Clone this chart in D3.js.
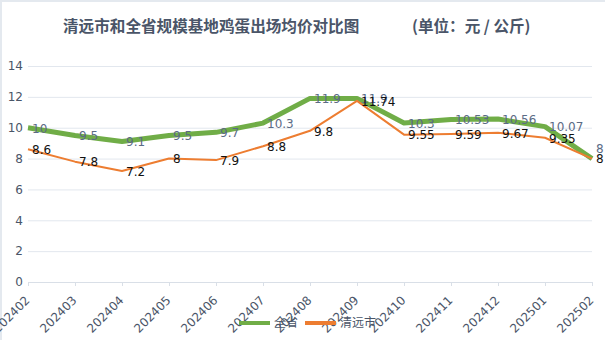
<!DOCTYPE html>
<html>
<head>
<meta charset="utf-8">
<script src="https://cdn.jsdelivr.net/npm/d3@7"></script>
<style>
  html, body { margin: 0; padding: 0; background: #fff; }
  svg { display: block; }
</style>
</head>
<body>
<svg id="chart" width="605" height="340"></svg>
<script>
// Monthly egg prices at large-scale farms (yuan / kg)
const months = ["202402","202403","202404","202405","202406","202407","202408","202409","202410","202411","202412","202501","202502"];
const provinceValues = [10, 9.5, 9.1, 9.5, 9.7, 10.3, 11.9, 11.9, 10.3, 10.53, 10.56, 10.07, 8];
const qingyuanValues = [8.6, 7.8, 7.2, 8, 7.9, 8.8, 9.8, 11.74, 9.55, 9.59, 9.67, 9.35, 8];
const seriesNames = ["全省", "清远市"];
const yTicks = [0, 2, 4, 6, 8, 10, 12, 14];

const titleText = "清远市和全省规模基地鸡蛋出场均价对比图";
const unitText = "(单位：元 / 公斤)";

const numFont = "'DejaVu Sans', Verdana, sans-serif";
const cjkFont = "'Noto Sans CJK SC', 'DejaVu Sans', sans-serif";
const axisColor = "#4a5568";

const svg = d3.select("#chart");
const W = 605, H = 340;
const margin = { left: 28, right: 13, top: 66, bottom: 58 };

// frame edges
svg.append("rect").attr("x", 0).attr("y", 0).attr("width", W).attr("height", 2).attr("fill", "#e4e9ef");
svg.append("rect").attr("x", 0).attr("y", 0).attr("width", 2).attr("height", H).attr("fill", "#e4e9ef");

const x = d3.scalePoint().domain(months).range([margin.left, W - margin.right]);
const y = d3.scaleLinear().domain([0, 14]).range([H - margin.bottom, margin.top]);

// gridlines + y labels
const yAxis = svg.append("g").attr("transform", `translate(${margin.left},0)`)
  .call(d3.axisLeft(y).tickValues(yTicks).tickSize(-(W - margin.right - margin.left)).tickPadding(5).tickFormat(d3.format("d")));
yAxis.select(".domain").remove();
yAxis.selectAll(".tick line").attr("stroke", "#e2e7ee").attr("stroke-width", 1);
yAxis.selectAll(".tick text").attr("fill", axisColor).attr("font-size", 12).attr("font-family", numFont);

// x axis with slanted month labels ending just below each tick
const xAxis = svg.append("g").attr("transform", `translate(0,${y(0)})`)
  .call(d3.axisBottom(x).tickSize(4).tickSizeOuter(0));
xAxis.select(".domain").attr("stroke", "#d9dfe7");
xAxis.selectAll(".tick line").attr("stroke", "#d9dfe7");
xAxis.selectAll(".tick text")
  .attr("fill", axisColor).attr("font-size", 12).attr("font-family", numFont)
  .attr("text-anchor", "end")
  .attr("y", 0).attr("dy", 0)
  .attr("transform", "translate(2,19) rotate(-45)");

// lines
const line = d3.line().x((d, i) => x(months[i])).y(d => y(d));
svg.append("path").datum(provinceValues)
  .attr("fill", "none").attr("stroke", "#70ad47").attr("stroke-width", 5)
  .attr("stroke-linejoin", "round").attr("d", line);
svg.append("path").datum(qingyuanValues)
  .attr("fill", "none").attr("stroke", "#ed7d31").attr("stroke-width", 2)
  .attr("stroke-linejoin", "round").attr("d", line);

// value labels (to the right of each point)
function labelShift(i, isProvince) {
  // lift the province label when both values coincide
  if (isProvince && Math.abs(y(provinceValues[i]) - y(qingyuanValues[i])) < 1) return -10;
  return 0;
}
svg.append("g").selectAll("text").data(provinceValues).join("text")
  .attr("x", (d, i) => x(months[i]) + 4)
  .attr("y", (d, i) => y(d) + labelShift(i, true))
  .attr("dy", "0.4em")
  .attr("font-size", 12).attr("font-family", numFont).attr("fill", "#5b6b86")
  .text(d => d);
svg.append("g").selectAll("text").data(qingyuanValues).join("text")
  .attr("x", (d, i) => x(months[i]) + 4)
  .attr("y", d => y(d))
  .attr("dy", "0.4em")
  .attr("font-size", 12).attr("font-family", numFont).attr("fill", "#111")
  .text(d => d);

// title
svg.append("text").attr("x", 63).attr("y", 32)
  .attr("font-family", cjkFont).attr("font-size", 15.6).attr("font-weight", "bold")
  .attr("fill", "#4a5568").text(titleText);
svg.append("text").attr("x", 412).attr("y", 32)
  .attr("font-family", cjkFont).attr("font-size", 15.6).attr("font-weight", "bold")
  .attr("fill", "#4a5568").text(unitText);

// legend
const legendColors = ["#70ad47", "#ed7d31"];
const legendX = [239, 305];
const legend = svg.append("g");
seriesNames.forEach((name, i) => {
  legend.append("rect").attr("x", legendX[i]).attr("y", 321).attr("width", 31).attr("height", 4)
    .attr("fill", legendColors[i]);
  legend.append("text").attr("x", legendX[i] + 35).attr("y", 323).attr("dy", "0.35em")
    .attr("font-family", cjkFont).attr("font-size", 12).attr("fill", axisColor).text(name);
});
</script>
</body>
</html>
